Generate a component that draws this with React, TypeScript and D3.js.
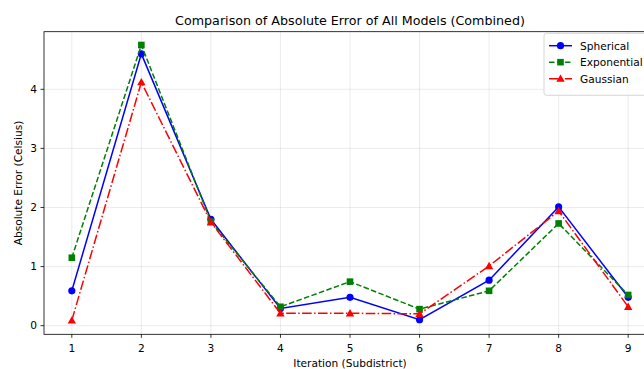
import React from "react";
import * as d3 from "d3";

const iterations = [1, 2, 3, 4, 5, 6, 7, 8, 9];
const spherical = [0.59, 4.6, 1.8, 0.29, 0.48, 0.1, 0.77, 2.01, 0.48];
const exponential = [1.15, 4.75, 1.76, 0.32, 0.745, 0.28, 0.59, 1.73, 0.52];
const gaussian = [0.09, 4.12, 1.75, 0.21, 0.21, 0.2, 1.01, 1.94, 0.32];
const xTicks = [1, 2, 3, 4, 5, 6, 7, 8, 9];
const yTicks = [0, 1, 2, 3, 4];

const series = [
  { name: "Spherical", values: spherical, color: "#0000ff", dash: "none", marker: "circle" },
  { name: "Exponential", values: exponential, color: "#008000", dash: "5.55,2.4", marker: "square" },
  { name: "Gaussian", values: gaussian, color: "#ff0000", dash: "9.6,2.4,1.5,2.4", marker: "triangle" },
];

const W = 644;
const H = 369;
const left = 44;
const right = 656;
const top = 31.7;
const bottom = 334.3;
const font = "'DejaVu Sans', sans-serif";
const tickSize = 10.6;

function Marker({ type, x, y, color }: { type: string; x: number; y: number; color: string }) {
  if (type === "circle") return <circle cx={x} cy={y} r={3.6} fill={color} />;
  if (type === "square") return <rect x={x - 3.3} y={y - 3.3} width={6.6} height={6.6} fill={color} />;
  const s = 4.2;
  return (
    <path
      d={`M${x},${y - s} L${x + s},${y + s * 0.75} L${x - s},${y + s * 0.75} Z`}
      fill={color}
    />
  );
}

export default function App() {
  const x = d3.scaleLinear().domain([0.6, 9.4]).range([left, right]);
  const y = d3.scaleLinear().domain([-0.146, 4.975]).range([bottom, top]);

  const line = d3
    .line<number>()
    .x((_, i) => x(iterations[i]))
    .y((d) => y(d));

  const legendX = 544;
  const legendY = 33.3;

  return (
    <svg
      width={W}
      height={H}
      style={{ position: "absolute", left: 0, top: 0, background: "#fff" }}
      fontFamily={font}
    >
      <rect width={W} height={H} fill="#fff" />
      <text x={350} y={25} textAnchor="middle" fontSize={12.7} fill="#000">
        Comparison of Absolute Error of All Models (Combined)
      </text>

      {/* grid */}
      {xTicks.map((t) => (
        <line key={"gx" + t} x1={x(t)} x2={x(t)} y1={top} y2={bottom} stroke="#b0b0b0" strokeOpacity={0.3} strokeWidth={0.8} />
      ))}
      {yTicks.map((t) => (
        <line key={"gy" + t} x1={left} x2={right} y1={y(t)} y2={y(t)} stroke="#b0b0b0" strokeOpacity={0.3} strokeWidth={0.8} />
      ))}

      {/* lines and markers */}
      {series.map((s) => (
        <g key={s.name}>
          <path d={line(s.values) || ""} fill="none" stroke={s.color} strokeWidth={1.5} strokeDasharray={s.dash} />
          {s.values.map((v, i) => (
            <Marker key={i} type={s.marker} x={x(iterations[i])} y={y(v)} color={s.color} />
          ))}
        </g>
      ))}

      {/* spines */}
      <rect x={left} y={top} width={right - left} height={bottom - top} fill="none" stroke="#000" strokeWidth={0.8} />

      {/* ticks */}
      {xTicks.map((t) => (
        <g key={"xt" + t}>
          <line x1={x(t)} x2={x(t)} y1={bottom} y2={bottom + 3.5} stroke="#000" strokeWidth={0.8} />
          <text x={x(t)} y={bottom + 17.5} textAnchor="middle" fontSize={tickSize} fill="#000">
            {t}
          </text>
        </g>
      ))}
      {yTicks.map((t) => (
        <g key={"yt" + t}>
          <line x1={left - 3.5} x2={left} y1={y(t)} y2={y(t)} stroke="#000" strokeWidth={0.8} />
          <text x={left - 7} y={y(t) + 3.8} textAnchor="end" fontSize={tickSize} fill="#000">
            {t}
          </text>
        </g>
      ))}

      <text x={350} y={366.5} textAnchor="middle" fontSize={tickSize} fill="#000">
        Iteration (Subdistrict)
      </text>
      <text
        transform={`translate(22,${(top + bottom) / 2}) rotate(-90)`}
        textAnchor="middle"
        fontSize={tickSize}
        fill="#000"
      >
        Absolute Error (Celsius)
      </text>

      {/* legend */}
      <rect x={legendX} y={legendY} width={107} height={62} rx={2.5} fill="#fff" fillOpacity={0.8} stroke="#cccccc" strokeWidth={0.8} />
      {series.map((s, i) => {
        const ly = legendY + 12.4 + i * 16.5;
        return (
          <g key={"lg" + s.name}>
            <line x1={legendX + 5} x2={legendX + 28} y1={ly} y2={ly} stroke={s.color} strokeWidth={1.5} strokeDasharray={s.dash} />
            <Marker type={s.marker} x={legendX + 16.5} y={ly} color={s.color} />
            <text x={legendX + 36} y={ly + 3.8} fontSize={tickSize} fill="#000">
              {s.name}
            </text>
          </g>
        );
      })}
    </svg>
  );
}
